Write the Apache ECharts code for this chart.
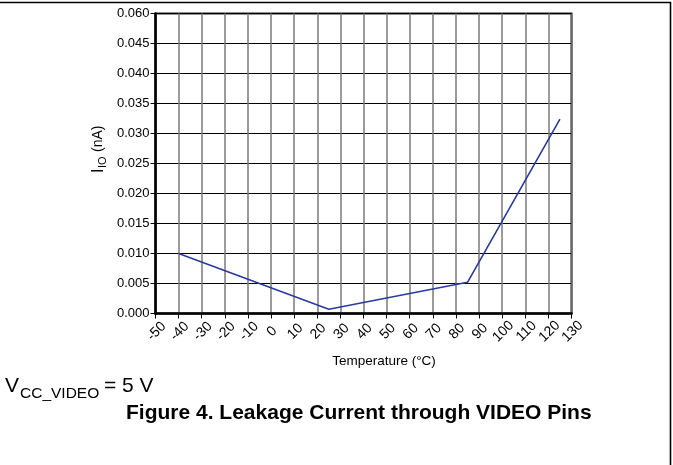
<!DOCTYPE html>
<html>
<head>
<meta charset="utf-8">
<script src="https://cdn.jsdelivr.net/npm/echarts@6/dist/echarts.min.js"></script>
<style>
html,body{margin:0;padding:0;background:#fff;}
#c{width:673px;height:465px;}
</style>
</head>
<body>
<div id="c"></div>
<script>
// Data
var temperatures = [-40, 25, 85, 125];
var leakage = [0.010, 0.0007, 0.0052, 0.0324];
var yTickLabels = ['0.000','0.005','0.010','0.015','0.020','0.025','0.030','0.035','0.040','0.045','0.060'];
var xTickLabels = ['-50','-40','-30','-20','-10','0','10','20','30','40','50','60','70','80','90','100','110','120','130'];

var font = 'Liberation Sans, Arial, sans-serif';
var chart = echarts.init(document.getElementById('c'), null, {renderer: 'canvas'});
var pts = temperatures.map(function (t, i) { return [t, leakage[i]]; });

chart.setOption({
  animation: false,
  backgroundColor: '#fff',
  grid: {left: 155.5, top: 13.5, width: 416, height: 300, show: true, borderColor: '#222', borderWidth: 2, backgroundColor: 'transparent'},
  xAxis: {
    type: 'value', min: -50, max: 130, interval: 10,
    axisLine: {show: true, onZero: false, lineStyle: {color: '#000', width: 2.5}},
    axisTick: {show: true, length: 5, lineStyle: {color: '#000', width: 1}},
    splitLine: {show: true, lineStyle: {color: '#7a7a7a', width: 1.5}},
    axisLabel: {
      rotate: 45, margin: 19, align: 'center', verticalAlign: 'middle', padding: [3, 0, 0, 3],
      color: '#000', fontFamily: font, fontSize: 14,
      formatter: function (v) { var i = Math.round((v + 50) / 10); return xTickLabels[i]; }
    }
  },
  yAxis: {
    type: 'value', min: 0, max: 0.05, interval: 0.005,
    axisLine: {show: true, onZero: false, lineStyle: {color: '#000', width: 2.5}},
    axisTick: {show: true, length: 5, lineStyle: {color: '#000', width: 1}},
    splitLine: {show: true, lineStyle: {color: '#000', width: 1}},
    axisLabel: {
      margin: 6, color: '#000', fontFamily: font, fontSize: 13,
      formatter: function (v) { var i = Math.round(v / 0.005); return yTickLabels[i]; }
    }
  },
  series: [{
    type: 'line', data: pts, symbol: 'none',
    lineStyle: {color: '#2b3a9e', width: 1.6}
  }],
  graphic: [
    {type: 'polyline', z: 100, shape: {points: [[0, 2.5], [670.5, 2.5], [670.5, 465]]}, style: {stroke: '#000', lineWidth: 1.6, fill: null}},
    {
      type: 'group', x: 98.5, y: 173, rotation: Math.PI / 2,
      children: [
        {type: 'text', x: 0, y: 0, style: {text: 'I', font: '16px ' + font, fill: '#000', textVerticalAlign: 'middle'}},
        {type: 'text', x: 5, y: 4.5, style: {text: 'IO', font: '11px ' + font, fill: '#000', textVerticalAlign: 'middle'}},
        {type: 'text', x: 21, y: 0, style: {text: '(nA)', font: '14px ' + font, fill: '#000', textVerticalAlign: 'middle'}}
      ]
    },
    {type: 'text', x: 384, y: 361, style: {text: 'Temperature (°C)', font: '13.5px ' + font, fill: '#000', textAlign: 'center', textVerticalAlign: 'middle'}},
    {type: 'text', x: 5, y: 376, style: {text: 'V', font: '21px ' + font, fill: '#000'}},
    {type: 'text', x: 20, y: 386, style: {text: 'CC_VIDEO', font: '15.5px ' + font, fill: '#000'}},
    {type: 'text', x: 104, y: 376, style: {text: '= 5 V', font: '21px ' + font, fill: '#000'}},
    {type: 'text', x: 126, y: 403, style: {text: 'Figure 4. Leakage Current through VIDEO Pins', font: 'bold 21px ' + font, fill: '#000'}}
  ]
});
</script>
</body>
</html>
